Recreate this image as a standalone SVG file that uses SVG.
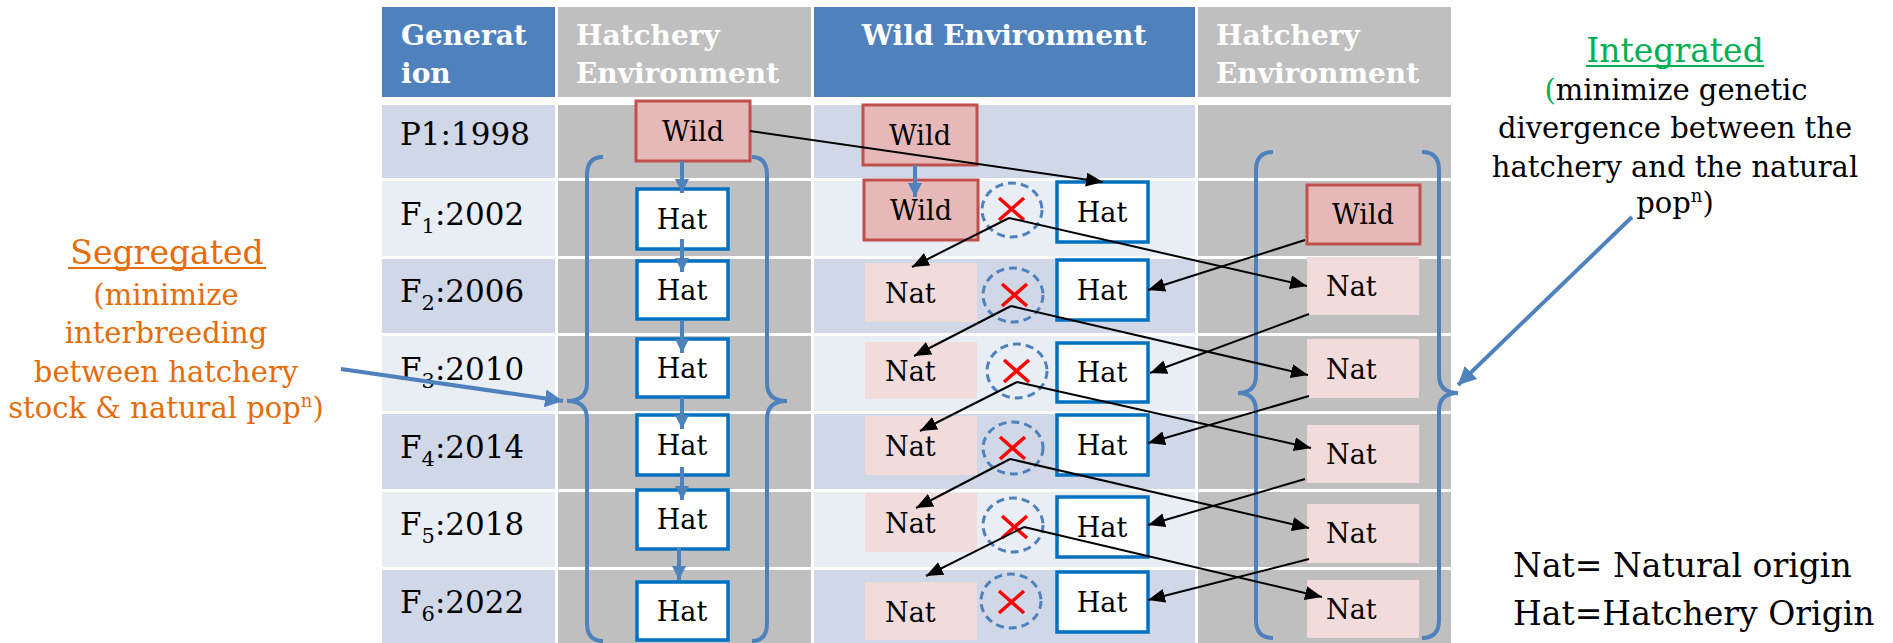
<svg xmlns="http://www.w3.org/2000/svg" width="1893" height="643" viewBox="0 0 1893 643">
<defs>
<style>
text{font-family:"DejaVu Serif","Liberation Serif",serif;}
.hd{font-weight:bold;font-size:28px;fill:#fff;}
.gen{font-size:31px;fill:#000;}
.sub{font-size:21px;}
.blue{fill:#4f81bd;}
.gray{fill:#bfbfbf;}
.dk{fill:#d0d8e8;}
.lt{fill:#e9edf4;}
.wild{fill:#e6b9b8;stroke:#c0504d;stroke-width:3;}
.hat{fill:#fff;stroke:#0070c0;stroke-width:3.5;}
.nat{fill:#f2dcdb;}
.lbl{font-size:27px;fill:#000;}
.brace{fill:none;stroke:#4f81bd;stroke-width:4;}
.circ{fill:none;stroke:#4f81bd;stroke-width:3;stroke-dasharray:8 5;}
.xm{stroke:#ff0000;stroke-width:3.5;}
.bl{stroke:#000;stroke-width:2;fill:none;marker-end:url(#ab);}
.vb{stroke:#4f81bd;stroke-width:4;fill:none;marker-end:url(#avb);}
.big{stroke:#4f81bd;stroke-width:4;fill:none;marker-end:url(#abig);}
.seg{font-size:29px;fill:#e46c0a;}
.int{font-size:29px;fill:#000;}
.leg{font-size:33px;fill:#000;}
</style>
<marker id="ab" markerUnits="userSpaceOnUse" markerWidth="18" markerHeight="14" refX="17" refY="7" orient="auto"><path d="M0,0 L17,7 L0,14 z" fill="#000"/></marker>
<marker id="avb" markerUnits="userSpaceOnUse" markerWidth="15" markerHeight="14" refX="14" refY="7" orient="auto"><path d="M0,0 L14,7 L0,14 z" fill="#4f81bd"/></marker>
<marker id="abig" markerUnits="userSpaceOnUse" markerWidth="20" markerHeight="18" refX="18" refY="9" orient="auto"><path d="M0,0 L18,9 L0,18 z" fill="#4f81bd"/></marker>
</defs>
<rect width="1893" height="643" fill="#fff"/>

<g id="table">
<rect class="blue" x="382" y="7" width="173" height="90"/>
<rect class="gray" x="558" y="7" width="253" height="90"/>
<rect class="blue" x="814" y="7" width="381" height="90"/>
<rect class="gray" x="1198" y="7" width="253" height="90"/>
<rect class="dk" x="382" y="105" width="173" height="73"/><rect class="gray" x="558" y="105" width="253" height="73"/><rect class="dk" x="814" y="105" width="381" height="73"/><rect class="gray" x="1198" y="105" width="253" height="73"/>
<rect class="lt" x="382" y="181" width="173" height="75"/><rect class="gray" x="558" y="181" width="253" height="75"/><rect class="lt" x="814" y="181" width="381" height="75"/><rect class="gray" x="1198" y="181" width="253" height="75"/>
<rect class="dk" x="382" y="259" width="173" height="74"/><rect class="gray" x="558" y="259" width="253" height="74"/><rect class="dk" x="814" y="259" width="381" height="74"/><rect class="gray" x="1198" y="259" width="253" height="74"/>
<rect class="lt" x="382" y="336" width="173" height="75"/><rect class="gray" x="558" y="336" width="253" height="75"/><rect class="lt" x="814" y="336" width="381" height="75"/><rect class="gray" x="1198" y="336" width="253" height="75"/>
<rect class="dk" x="382" y="414" width="173" height="75"/><rect class="gray" x="558" y="414" width="253" height="75"/><rect class="dk" x="814" y="414" width="381" height="75"/><rect class="gray" x="1198" y="414" width="253" height="75"/>
<rect class="lt" x="382" y="492" width="173" height="75"/><rect class="gray" x="558" y="492" width="253" height="75"/><rect class="lt" x="814" y="492" width="381" height="75"/><rect class="gray" x="1198" y="492" width="253" height="75"/>
<rect class="dk" x="382" y="570" width="173" height="73"/><rect class="gray" x="558" y="570" width="253" height="73"/><rect class="dk" x="814" y="570" width="381" height="73"/><rect class="gray" x="1198" y="570" width="253" height="73"/>
<text class="hd" x="401" y="45">Generat</text>
<text class="hd" x="401" y="83">ion</text>
<text class="hd" x="576" y="45">Hatchery</text>
<text class="hd" x="576" y="83">Environment</text>
<text class="hd" x="1004" y="45" text-anchor="middle">Wild Environment</text>
<text class="hd" x="1216" y="45">Hatchery</text>
<text class="hd" x="1216" y="83">Environment</text>
<text class="gen" x="400" y="145">P1:1998</text>
<text class="gen" x="400" y="225">F<tspan class="sub" dy="8">1</tspan><tspan dy="-8">:2002</tspan></text>
<text class="gen" x="400" y="302">F<tspan class="sub" dy="8">2</tspan><tspan dy="-8">:2006</tspan></text>
<text class="gen" x="400" y="380">F<tspan class="sub" dy="8">3</tspan><tspan dy="-8">:2010</tspan></text>
<text class="gen" x="400" y="458">F<tspan class="sub" dy="8">4</tspan><tspan dy="-8">:2014</tspan></text>
<text class="gen" x="400" y="535">F<tspan class="sub" dy="8">5</tspan><tspan dy="-8">:2018</tspan></text>
<text class="gen" x="400" y="613">F<tspan class="sub" dy="8">6</tspan><tspan dy="-8">:2022</tspan></text>
</g>

<g id="braces">
<path class="brace" d="M603,157 Q587,157 587,175 L587,383 Q587,401 567,401 Q587,401 587,419 L587,623 Q587,641 603,641"/>
<path class="brace" d="M752,157 Q767,157 767,175 L767,383 Q767,401 787,401 Q767,401 767,419 L767,623 Q767,641 752,641"/>
<path class="brace" d="M1273,152 Q1256,152 1256,170 L1256,375 Q1256,393 1238,393 Q1256,393 1256,411 L1256,620 Q1256,638 1273,638"/>
<path class="brace" d="M1422,152 Q1439,152 1439,170 L1439,375 Q1439,393 1458,393 Q1439,393 1439,411 L1439,620 Q1439,638 1422,638"/>
</g>

<g id="h-p1-wild"><rect class="wild" x="636" y="101" width="114" height="60"/><text class="lbl" x="693" y="141" text-anchor="middle">Wild</text></g>
<g id="h-f1-hat"><rect class="hat" x="637" y="189" width="91" height="60"/><text class="lbl" x="682" y="229" text-anchor="middle">Hat</text></g>
<g id="h-f2-hat"><rect class="hat" x="637" y="261" width="91" height="58"/><text class="lbl" x="682" y="300" text-anchor="middle">Hat</text></g>
<g id="h-f3-hat"><rect class="hat" x="637" y="339" width="91" height="58"/><text class="lbl" x="682" y="378" text-anchor="middle">Hat</text></g>
<g id="h-f4-hat"><rect class="hat" x="637" y="415" width="91" height="60"/><text class="lbl" x="682" y="455" text-anchor="middle">Hat</text></g>
<g id="h-f5-hat"><rect class="hat" x="637" y="490" width="91" height="59"/><text class="lbl" x="682" y="529" text-anchor="middle">Hat</text></g>
<g id="h-f6-hat"><rect class="hat" x="637" y="582" width="91" height="58"/><text class="lbl" x="682" y="621" text-anchor="middle">Hat</text></g>

<g id="w-p1-wild"><rect class="wild" x="863" y="105" width="114" height="60"/><text class="lbl" x="920" y="145" text-anchor="middle">Wild</text></g>
<g id="w-f1-wild"><rect class="wild" x="864" y="180" width="114" height="60"/><text class="lbl" x="921" y="220" text-anchor="middle">Wild</text></g>
<g id="w-f2-nat"><rect class="nat" x="865" y="263" width="112" height="59"/><text class="lbl" x="885" y="303">Nat</text></g>
<g id="w-f3-nat"><rect class="nat" x="865" y="342" width="112" height="57"/><text class="lbl" x="885" y="381">Nat</text></g>
<g id="w-f4-nat"><rect class="nat" x="865" y="416" width="112" height="59"/><text class="lbl" x="885" y="456">Nat</text></g>
<g id="w-f5-nat"><rect class="nat" x="865" y="493" width="112" height="59"/><text class="lbl" x="885" y="533">Nat</text></g>
<g id="w-f6-nat"><rect class="nat" x="865" y="582" width="112" height="58"/><text class="lbl" x="885" y="622">Nat</text></g>

<g id="x-f1"><ellipse class="circ" cx="1012" cy="210" rx="30" ry="27"/><path class="xm" d="M999,198 L1024,220 M1024,198 L999,220"/></g>
<g id="x-f2"><ellipse class="circ" cx="1013" cy="295" rx="30" ry="27"/><path class="xm" d="M1002,284 L1027,306 M1027,284 L1002,306"/></g>
<g id="x-f3"><ellipse class="circ" cx="1017" cy="371" rx="30" ry="27"/><path class="xm" d="M1004,360 L1029,382 M1029,360 L1004,382"/></g>
<g id="x-f4"><ellipse class="circ" cx="1013" cy="448" rx="30" ry="26"/><path class="xm" d="M1000,437 L1025,459 M1025,437 L1000,459"/></g>
<g id="x-f5"><ellipse class="circ" cx="1013" cy="525" rx="30" ry="27"/><path class="xm" d="M1002,516 L1027,538 M1027,516 L1002,538"/></g>
<g id="x-f6"><ellipse class="circ" cx="1011" cy="601" rx="30" ry="27"/><path class="xm" d="M999,591 L1024,613 M1024,591 L999,613"/></g>

<g id="w-f1-hat"><rect class="hat" x="1057" y="182" width="91" height="60"/><text class="lbl" x="1102" y="222" text-anchor="middle">Hat</text></g>
<g id="w-f2-hat"><rect class="hat" x="1057" y="260" width="91" height="60"/><text class="lbl" x="1102" y="300" text-anchor="middle">Hat</text></g>
<g id="w-f3-hat"><rect class="hat" x="1057" y="343" width="91" height="59"/><text class="lbl" x="1102" y="382" text-anchor="middle">Hat</text></g>
<g id="w-f4-hat"><rect class="hat" x="1057" y="415" width="91" height="60"/><text class="lbl" x="1102" y="455" text-anchor="middle">Hat</text></g>
<g id="w-f5-hat"><rect class="hat" x="1057" y="497" width="91" height="60"/><text class="lbl" x="1102" y="537" text-anchor="middle">Hat</text></g>
<g id="w-f6-hat"><rect class="hat" x="1057" y="572" width="91" height="60"/><text class="lbl" x="1102" y="612" text-anchor="middle">Hat</text></g>

<g id="i-f1-wild"><rect class="wild" x="1307" y="185" width="113" height="59"/><text class="lbl" x="1363" y="224" text-anchor="middle">Wild</text></g>
<g id="i-f2-nat"><rect class="nat" x="1307" y="257" width="112" height="58"/><text class="lbl" x="1326" y="296">Nat</text></g>
<g id="i-f3-nat"><rect class="nat" x="1307" y="339" width="112" height="59"/><text class="lbl" x="1326" y="379">Nat</text></g>
<g id="i-f4-nat"><rect class="nat" x="1307" y="425" width="112" height="58"/><text class="lbl" x="1326" y="464">Nat</text></g>
<g id="i-f5-nat"><rect class="nat" x="1307" y="504" width="112" height="59"/><text class="lbl" x="1326" y="543">Nat</text></g>
<g id="i-f6-nat"><rect class="nat" x="1307" y="580" width="112" height="58"/><text class="lbl" x="1326" y="619">Nat</text></g>

<g id="connectors">
<line class="vb" x1="682" y1="161" x2="682" y2="193"/>
<line class="vb" x1="682" y1="239" x2="682" y2="272"/>
<line class="vb" x1="682" y1="320" x2="682" y2="353"/>
<line class="vb" x1="682" y1="397" x2="682" y2="429"/>
<line class="vb" x1="682" y1="467" x2="682" y2="500"/>
<line class="vb" x1="679" y1="548" x2="679" y2="580"/>
<line class="vb" x1="915" y1="165" x2="915" y2="197"/>
<line class="bl" x1="750" y1="131" x2="1103" y2="182"/>
<line class="bl" x1="1009" y1="218" x2="912" y2="267"/>
<line class="bl" x1="1009" y1="218" x2="1307" y2="286"/>
<line class="bl" x1="1305" y1="240" x2="1148" y2="290"/>
<line class="bl" x1="1011" y1="306" x2="914" y2="356"/>
<line class="bl" x1="1011" y1="306" x2="1308" y2="375"/>
<line class="bl" x1="1309" y1="314" x2="1150" y2="373"/>
<line class="bl" x1="1017" y1="382" x2="920" y2="431"/>
<line class="bl" x1="1017" y1="382" x2="1311" y2="448"/>
<line class="bl" x1="1309" y1="396" x2="1148" y2="443"/>
<line class="bl" x1="1010" y1="459" x2="916" y2="508"/>
<line class="bl" x1="1010" y1="459" x2="1309" y2="528"/>
<line class="bl" x1="1305" y1="479" x2="1148" y2="525"/>
<line class="bl" x1="1024" y1="527" x2="926" y2="576"/>
<line class="bl" x1="1024" y1="527" x2="1322" y2="597"/>
<line class="bl" x1="1309" y1="559" x2="1148" y2="600"/>
<line class="big" x1="341" y1="369" x2="563" y2="401"/>
<line class="big" x1="1632" y1="217" x2="1458" y2="385"/>
</g>

<g id="segregated">
<text x="167" y="264" text-anchor="middle" style="font-size:33px;fill:#e46c0a">Segregated</text>
<line x1="68" y1="268" x2="266" y2="268" stroke="#e46c0a" stroke-width="2"/>
<text class="seg" x="166" y="305" text-anchor="middle">(minimize</text>
<text class="seg" x="166" y="343" text-anchor="middle">interbreeding</text>
<text class="seg" x="166" y="382" text-anchor="middle">between hatchery</text>
<text class="seg" x="166" y="418" text-anchor="middle">stock &amp; natural pop<tspan style="font-size:18px" dy="-11">n</tspan><tspan dy="11">)</tspan></text>
</g>

<g id="integrated">
<text x="1675" y="62" text-anchor="middle" style="font-size:33px;fill:#00b050">Integrated</text>
<line x1="1586" y1="66" x2="1764" y2="66" stroke="#00b050" stroke-width="2"/>
<text class="int" x="1676" y="100" text-anchor="middle"><tspan fill="#00b050">(</tspan>minimize genetic</text>
<text class="int" x="1675" y="138" text-anchor="middle">divergence between the</text>
<text class="int" x="1675" y="177" text-anchor="middle">hatchery and the natural</text>
<text class="int" x="1675" y="213" text-anchor="middle">pop<tspan style="font-size:18px" dy="-11">n</tspan><tspan dy="11">)</tspan></text>
</g>

<g id="legend">
<text class="leg" x="1513" y="577">Nat= Natural origin</text>
<text class="leg" x="1513" y="625">Hat=Hatchery Origin</text>
</g>
</svg>
